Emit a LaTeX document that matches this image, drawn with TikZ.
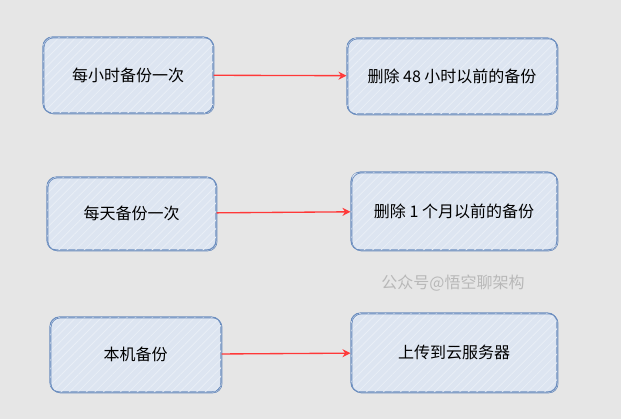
\documentclass[tikz,border=0pt]{standalone}
\usepackage{fontspec}
\usepackage{tikz}
\usetikzlibrary{arrows.meta,patterns.meta}
\newfontfamily\cjk{Noto Sans CJK SC}
\definecolor{bggray}{HTML}{E6E6E6}
\definecolor{boxblue}{HTML}{6C8EBF}
\definecolor{boxfill}{HTML}{DDE5F1}
\definecolor{linkred}{HTML}{FF3838}
\definecolor{markgray}{HTML}{B8B8B8}
\tikzset{
    box/.style={draw=boxblue, line width=0.8pt, fill=boxfill, rounded corners=7pt,
        font=\cjk\fontsize{12}{14}\selectfont, inner sep=0pt,
        postaction={pattern={Lines[angle=45, distance=4.5pt, line width=0.6pt]}, pattern color=white!35!boxfill},
        postaction={draw=boxblue, line width=0.5pt, transform canvas={shift={(0.8pt,-0.7pt)}}}},
    link/.style={draw=linkred, line width=1pt, -{Stealth[open, length=6pt, width=6pt]}},
}

\begin{document}
\begin{tikzpicture}[x=0.75pt, y=-0.75pt]
    \fill [bggray] (0, 0) rectangle (621, 419);
    \useasboundingbox (0, 0) rectangle (621, 419);
    \node [box, minimum width=127.5pt, minimum height=57pt] (hour) at (128, 75) {每小时备份一次};
    \node [box, minimum width=157.5pt, minimum height=57pt] (hourdel) at (452, 76) {删除 48 小时以前的备份};
    \node [box, minimum width=126.75pt, minimum height=54.75pt] (day) at (131.5, 213.5) {每天备份一次};
    \node [box, minimum width=154.5pt, minimum height=58.5pt] (daydel) at (454, 211) {删除 1 个月以前的备份};
    \node [box, minimum width=128.25pt, minimum height=56.25pt] (local) at (135.5, 354.5) {本机备份};
    \node [box, minimum width=154.5pt, minimum height=59.25pt] (cloud) at (454, 352.5) {上传到云服务器};
    \node [font=\cjk\fontsize{12}{14}\selectfont, text=markgray] (mark) at (453, 283) {公众号@悟空聊架构};
    \draw [link] (hour) -- (hourdel);
    \draw [link] (day) -- (daydel);
    \draw [link] (local) -- (cloud);
\end{tikzpicture}
\end{document}
